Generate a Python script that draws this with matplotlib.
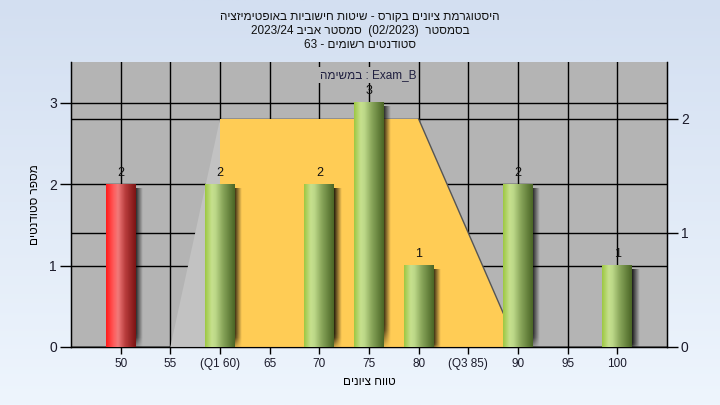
import re
import numpy as np
import matplotlib
matplotlib.use("Agg")
import matplotlib.pyplot as plt
from matplotlib.colors import LinearSegmentedColormap, to_rgb

plt.rcParams['font.family'] = ['Liberation Sans', 'DejaVu Sans']

# ---------------- data ----------------
grades = [50, 60, 70, 75, 80, 90, 100]
counts = [2, 2, 2, 3, 1, 2, 1]
bar_kind = ['fail', 'pass', 'pass', 'pass', 'pass', 'pass', 'pass']
x_ticks = [50, 55, 60, 65, 70, 75, 80, 85, 90, 95, 100]
x_ticklabels = ['50', '55', '(Q1 60)', '65', '70', '75', '80', '(Q3 85)', '90', '95', '100']
left_ticks = [0, 1, 2, 3]
right_ticks = [0, 1, 2]
band_x = [55, 60, 80, 90]
band_y = [0, 2, 2, 0]

title_lines = ["היסטוגרמת ציונים בקורס - שיטות חישוביות באופטימיזציה",
               "בסמסטר  (02/2023)  סמסטר אביב 2023/24",
               "סטודנטים רשומים - 63"]
x_label = "טווח ציונים"
y_label = "מספר סטודנטים"
note = "Exam_B : במשימה"

# -------- visual (RTL) ordering helper --------
_mirror = str.maketrans("()", ")(")

def rtl(s):
    toks = re.findall(r'[A-Za-z0-9_/]+|[^A-Za-z0-9_/]+', s)
    out = []
    for t in reversed(toks):
        if re.match(r'[A-Za-z0-9_/]', t):
            out.append(t)
        else:
            out.append(t[::-1].translate(_mirror))
    return ''.join(out)

# ---------------- figure ----------------
fig = plt.figure(figsize=(7.2, 4.05), dpi=100)

bg = fig.add_axes([0, 0, 1, 1], zorder=-10)
top_c = np.array(to_rgb('#d3dff1'))
bot_c = np.array(to_rgb('#eef5fd'))
t = np.linspace(0, 1, 256)[:, None]
grad = top_c[None, None, :] * (1 - t[..., None]) + bot_c[None, None, :] * t[..., None]
grad = np.repeat(grad, 2, axis=1)
bg.imshow(grad, aspect='auto', extent=[0, 1, 0, 1])
bg.set_xlim(0, 1); bg.set_ylim(0, 1)
bg.axis('off')

pos = [71 / 720, (405 - 347) / 405, 596 / 720, 285 / 405]
ax = fig.add_axes(pos)
ax.set_facecolor('#b4b4b4')
ax.set_xlim(45, 105)
ax.set_ylim(0, 3.5)
ax.set_xticks(x_ticks)
ax.set_xticklabels(x_ticklabels, fontsize=8.5)
ax.set_yticks(left_ticks)
ax.set_yticklabels([str(v) for v in left_ticks], fontsize=10)
ax.grid(True, color='black', lw=1)
ax.set_axisbelow(True)
for s in ['left', 'bottom', 'right']:
    ax.spines[s].set_color('black')
    ax.spines[s].set_linewidth(1)
ax.spines['top'].set_visible(False)
ax.tick_params(axis='y', direction='out', length=8, width=1, pad=2, colors='black', labelcolor='#1a1a2a')
ax.tick_params(axis='x', direction='out', length=5, width=1, pad=3, colors='black', labelcolor='#1a1a2a')
ax.set_xlabel(rtl(x_label), fontsize=8.5, labelpad=4)
ax.set_ylabel(rtl(y_label), fontsize=8.5, labelpad=6)

# right axis with the quartile band
ax2 = ax.twinx()
ax2.patch.set_visible(False)
ax2.set_ylim(0, 2.5)
ax2.set_yticks(right_ticks)
ax2.set_yticklabels([str(v) for v in right_ticks], fontsize=10)
ax2.grid(True, axis='y', color='black', lw=1)
ax2.set_axisbelow(True)
ax2.spines['top'].set_visible(False)
for s in ['left', 'bottom', 'right']:
    ax2.spines[s].set_color('black')
ax2.tick_params(axis='y', direction='out', length=8, width=1, pad=2, colors='black', labelcolor='#1a1a2a')

ax2.fill([band_x[0], band_x[1], band_x[1]], [band_y[0], band_y[1], band_y[0]],
         color='#c2c2c2', lw=0, zorder=2)
ax2.fill([band_x[1], band_x[1], band_x[2], band_x[3]],
         [band_y[0], band_y[1], band_y[2], band_y[3]],
         color='#ffcc55', lw=0, zorder=2)
ax2.plot(band_x[2:], band_y[2:], color='#555555', lw=1, zorder=3)

# bars layer
ax3 = ax.twinx()
ax3.set_ylim(0, 3.5)
ax3.axis('off')

green = LinearSegmentedColormap.from_list('g', [
    (0.0, '#9ec843'), (0.22, '#c6e08e'), (0.35, '#bcd888'),
    (0.6, '#88a55a'), (1.0, '#4b6626')])
red = LinearSegmentedColormap.from_list('r', [
    (0.0, '#ff1c1c'), (0.25, '#ff5c5c'), (0.4, '#f07a7a'),
    (0.65, '#b83c3c'), (1.0, '#7c1414')])

bw = 3.0
row = np.linspace(0, 1, 64)[None, :]
for g, c, k in zip(grades, counts, bar_kind):
    # shadow
    sh = np.zeros((40, 20, 4))
    fx = np.linspace(1, 0, 20)[None, :] ** 1.0
    fy = np.clip(np.linspace(0, 1, 40)[:, None] * 12, 0, 1)[::-1]
    sh[..., 3] = 0.85 * fx * fy
    ax3.imshow(sh, aspect='auto', extent=[g + bw / 2 - 0.05, g + bw / 2 + 0.7, -0.06, c - 0.05],
               zorder=3, interpolation='bilinear')
    cmap = red if k == 'fail' else green
    ax3.imshow(row, cmap=cmap, aspect='auto', extent=[g - bw / 2, g + bw / 2, 0, c],
               zorder=4, interpolation='bilinear')
    ax3.annotate(str(c), (g, c), xytext=(0, 4), textcoords='offset points',
                 ha='center', va='bottom', fontsize=9, color='#111111', zorder=5)

ax3.set_xlim(45, 105)
ax3.set_ylim(0, 3.5)

ax3.text(0.498, 0.955, rtl(note), transform=ax3.transAxes, ha='center', va='center',
         fontsize=8.5, color='#202040', zorder=6,
         bbox=dict(facecolor='#b4b4b4', edgecolor='none', pad=1.5))

# titles
for i, line in enumerate(title_lines):
    fig.text(0.5, 1 - (17 + 14 * i) / 405, rtl(line), ha='center', va='center',
             fontsize=8.5, color='#111111')

fig.savefig('out.png', dpi=100)
